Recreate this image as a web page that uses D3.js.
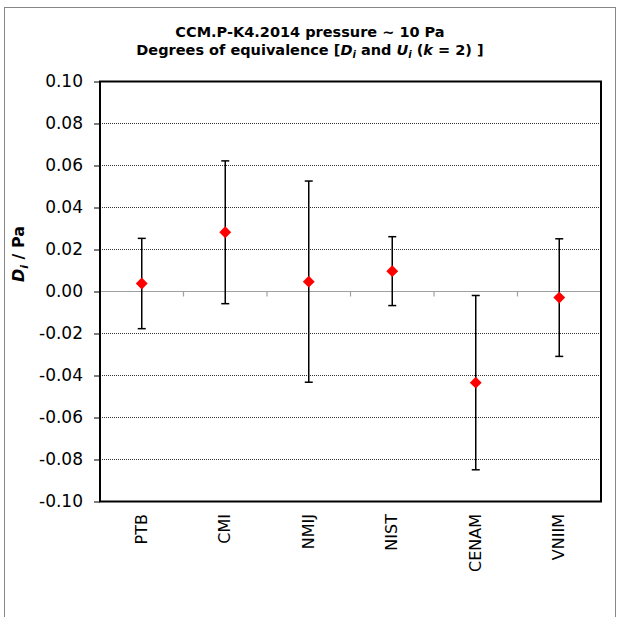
<!DOCTYPE html>
<html lang="en">
<head>
  <meta charset="UTF-8">
  <title>CCM.P-K4.2014 Degrees of equivalence</title>
  <script src="https://d3js.org/d3.v7.min.js"></script>
  <style>
    body {
      margin: 0;
      background: #fff;
      font-family: 'DejaVu Sans', Verdana, sans-serif;
    }
  </style>
</head>
<body>
  <div id="chart"></div>
  <script>
    // data
    const labs = ["PTB", "CMI", "NMIJ", "NIST", "CENAM", "VNIIM"];
    const dValues = [0.0038, 0.0282, 0.0047, 0.0097, -0.0434, -0.0029];
    const uValues = [0.0215, 0.0340, 0.0479, 0.0164, 0.0415, 0.0280];
    const yTicks = [-0.10, -0.08, -0.06, -0.04, -0.02, 0.00, 0.02, 0.04, 0.06, 0.08, 0.10];

    const W = 618, H = 617;
    const plot = { left: 100, right: 601, top: 81.5, bottom: 501.5 };

    const svg = d3.select("#chart").append("svg")
      .attr("width", W)
      .attr("height", H);

    // outer chart frame (bottom edge falls off the picture)
    svg.append("rect")
      .attr("x", 4.5).attr("y", 7.5)
      .attr("width", 611).attr("height", 620)
      .attr("fill", "white")
      .attr("stroke", "#878787")
      .attr("stroke-width", 1);

    const x = d3.scaleBand()
      .domain(labs)
      .range([plot.left, plot.right]);

    const y = d3.scaleLinear()
      .domain([-0.10, 0.10])
      .range([plot.bottom, plot.top]);

    // dotted grid lines
    svg.append("g")
      .selectAll("line")
      .data(yTicks.filter(t => Math.abs(t) > 1e-9 && Math.abs(t) < 0.099))
      .join("line")
      .attr("x1", plot.left).attr("x2", plot.right)
      .attr("y1", d => y(d)).attr("y2", d => y(d))
      .attr("stroke", "#333")
      .attr("stroke-width", 1)
      .attr("stroke-dasharray", "1,1");

    // zero line with category ticks
    const zero = y(0);
    svg.append("line")
      .attr("x1", plot.left).attr("x2", plot.right)
      .attr("y1", zero).attr("y2", zero)
      .attr("stroke", "#a0a0a0")
      .attr("stroke-width", 1.2);
    svg.append("g")
      .selectAll("line")
      .data(labs.slice(1))
      .join("line")
      .attr("x1", d => x(d)).attr("x2", d => x(d))
      .attr("y1", zero).attr("y2", zero + 5)
      .attr("stroke", "#a0a0a0")
      .attr("stroke-width", 1.2);

    // y axis
    const yAxis = d3.axisLeft(y)
      .tickValues(yTicks)
      .tickSize(6)
      .tickPadding(11)
      .tickFormat(d => d3.format(".2f")(d).replace("−", "-"));
    const gy = svg.append("g")
      .attr("transform", `translate(${plot.left},0)`)
      .call(yAxis);
    gy.select(".domain").remove();
    gy.selectAll(".tick line").attr("stroke", "#000").attr("stroke-width", 1);
    gy.selectAll(".tick text")
      .attr("font-family", "'DejaVu Sans', Verdana, sans-serif")
      .attr("font-size", "17px")
      .attr("fill", "#000");

    // plot border
    svg.append("rect")
      .attr("x", plot.left).attr("y", plot.top)
      .attr("width", plot.right - plot.left)
      .attr("height", plot.bottom - plot.top)
      .attr("fill", "none")
      .attr("stroke", "#000")
      .attr("stroke-width", 2);

    // error bars
    const rows = labs.map((name, i) => ({ name, d: dValues[i], u: uValues[i] }));
    const cx = d => x(d.name) + x.bandwidth() / 2;
    const bars = svg.append("g").selectAll("g")
      .data(rows)
      .join("g");
    bars.append("line")
      .attr("x1", cx).attr("x2", cx)
      .attr("y1", d => y(d.d + d.u)).attr("y2", d => y(d.d - d.u))
      .attr("stroke", "#000").attr("stroke-width", 1.5);
    [1, -1].forEach(s => {
      bars.append("line")
        .attr("x1", d => cx(d) - 4).attr("x2", d => cx(d) + 4)
        .attr("y1", d => y(d.d + s * d.u)).attr("y2", d => y(d.d + s * d.u))
        .attr("stroke", "#000").attr("stroke-width", 1.5);
    });

    // red diamond markers
    svg.append("g").selectAll("path")
      .data(rows)
      .join("path")
      .attr("d", d3.symbol(d3.symbolDiamond2, 90))
      .attr("transform", d => `translate(${cx(d)},${y(d.d)})`)
      .attr("fill", "#ff0000");

    // category labels, rotated
    svg.append("g").selectAll("text")
      .data(labs)
      .join("text")
      .attr("transform", d => `translate(${x(d) + x.bandwidth() / 2 + 5},514) rotate(-90)`)
      .attr("text-anchor", "end")
      .attr("font-size", "16px")
      .attr("fill", "#000")
      .text(d => d);

    // y axis title
    const yt = svg.append("text")
      .attr("transform", "translate(24,254) rotate(-90)")
      .attr("text-anchor", "middle")
      .attr("font-size", "16px")
      .attr("font-weight", "bold");
    yt.append("tspan").attr("font-style", "italic").text("D");
    yt.append("tspan").attr("font-style", "italic").attr("font-size", "11px").attr("dy", 4).text("i");
    yt.append("tspan").attr("dy", -4).text(" / Pa");

    // title
    const title = svg.append("text")
      .attr("text-anchor", "middle")
      .attr("font-size", "14.5px")
      .attr("font-weight", "bold");
    title.append("tspan").attr("x", 310).attr("y", 37)
      .text("CCM.P-K4.2014 pressure ~ 10 Pa");
    const l2 = title.append("tspan").attr("x", 310).attr("y", 55);
    l2.text("Degrees of equivalence [");
    title.append("tspan").attr("font-style", "italic").text("D");
    title.append("tspan").attr("font-style", "italic").attr("font-size", "10px").attr("dy", 3).text("i");
    title.append("tspan").attr("dy", -3).text(" and ");
    title.append("tspan").attr("font-style", "italic").text("U");
    title.append("tspan").attr("font-style", "italic").attr("font-size", "10px").attr("dy", 3).text("i");
    title.append("tspan").attr("dy", -3).text(" (");
    title.append("tspan").attr("font-style", "italic").text("k");
    title.append("tspan").text(" = 2) ]");
  </script>
</body>
</html>
